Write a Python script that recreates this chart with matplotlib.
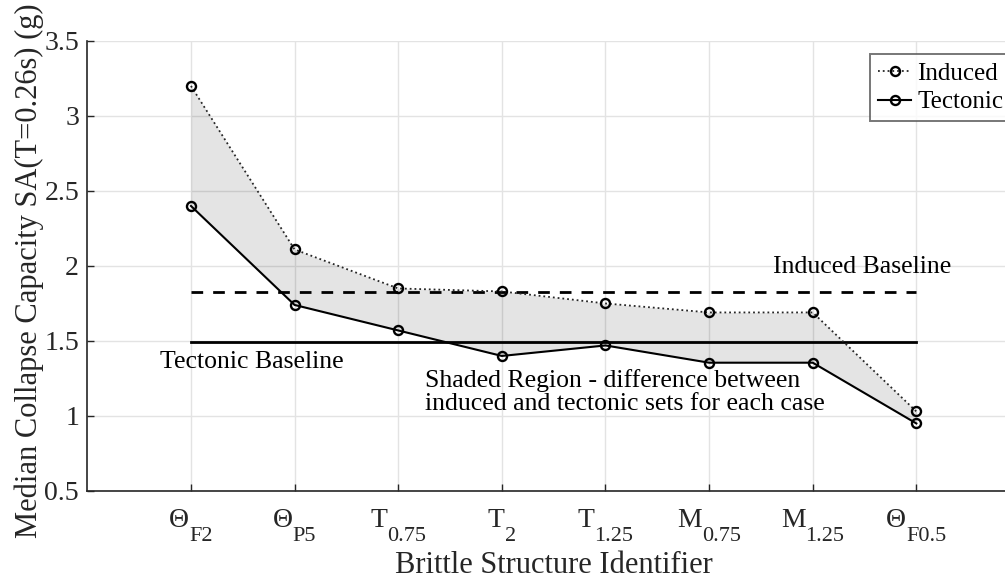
import numpy as np
import matplotlib
matplotlib.use('Agg')
import matplotlib.pyplot as plt

# Ký hiệu cấu trúc giòn: chữ chính + chỉ số dưới
case_main = ['Θ', 'Θ', 'T', 'T', 'T', 'M', 'M', 'Θ']
case_sub = ['F2', 'P5', '0.75', '2', '1.25', '0.75', '1.25', 'F0.5']

# Median collapse capacity SA(T=0.26s), đơn vị g
induced = [3.20, 2.11, 1.85, 1.83, 1.75, 1.69, 1.69, 1.03]
tectonic = [2.40, 1.74, 1.57, 1.40, 1.47, 1.355, 1.355, 0.95]

# Các đường cơ sở
induced_baseline = 1.825
tectonic_baseline = 1.495

y_ticks = [0.5, 1, 1.5, 2, 2.5, 3, 3.5]
y_tick_labels = ['0.5', '1', '1.5', '2', '2.5', '3', '3.5']

plt.rcParams['font.family'] = ['Liberation Serif', 'DejaVu Serif']

dark = '#262626'

fig = plt.figure(figsize=(10.05, 5.81), dpi=100)
ax = fig.add_axes([0.0869, 0.155, 0.928, 0.7745])

x = np.arange(1, len(case_main) + 1)

# Vùng tô giữa hai bộ dữ liệu
ax.fill_between(x, induced, tectonic, color='black', alpha=0.105, linewidth=0, zorder=1)

ax.plot(x, induced, ':', color=dark, linewidth=1.3, marker='o', markersize=6.5,
        markerfacecolor='none', markeredgewidth=1.7, markeredgecolor='black',
        label='Induced', zorder=3)
ax.plot(x, tectonic, '-', color='black', linewidth=1.5, marker='o', markersize=6.5,
        markerfacecolor='none', markeredgewidth=1.7, markeredgecolor='black',
        label='Tectonic', zorder=3)

ax.plot([x[0], x[-1]], [induced_baseline, induced_baseline], '--', color='black',
        linewidth=2, dashes=(4.2, 3.6), zorder=2)
ax.plot([x[0], x[-1]], [tectonic_baseline, tectonic_baseline], '-', color='black',
        linewidth=2, zorder=2)

ax.text(6.62, 1.99, 'Induced Baseline', fontsize=18.5, va='center', ha='left', color='black')
ax.text(0.70, 1.362, 'Tectonic Baseline', fontsize=18.5, va='center', ha='left', color='black')
ax.text(3.26, 1.16, 'Shaded Region - difference between\ninduced and tectonic sets for each case',
        fontsize=18.5, va='center', ha='left', color='black', linespacing=1.1)

ax.set_xlim(0, 9)
ax.set_ylim(0.5, 3.5)
ax.set_xticks(x)
ax.set_xticklabels([''] * len(x))
ax.set_yticks(y_ticks)
ax.set_yticklabels(y_tick_labels, fontsize=20, color=dark)

ax.tick_params(direction='in', length=5, width=1, colors=dark, pad=8)
ax.tick_params(axis='y', pad=6)
ax.grid(True, color='#e3e3e3', linewidth=1, zorder=0)
ax.set_axisbelow(True)

for side in ['top', 'right']:
    ax.spines[side].set_visible(False)
for side in ['left', 'bottom']:
    ax.spines[side].set_color(dark)
    ax.spines[side].set_linewidth(1.2)

# Nhãn trục x kiểu chỉ số dưới: đo độ rộng rồi căn giữa cả cụm quanh vạch chia
renderer = fig.canvas.get_renderer()
xtrans = ax.get_xaxis_transform()
for xi, main, sub in zip(x, case_main, case_sub):
    t_main = ax.annotate(main, xy=(xi, 0), xycoords=xtrans, xytext=(0, -36),
                         textcoords='offset pixels', fontsize=20, color=dark,
                         ha='left', va='baseline', annotation_clip=False)
    t_sub = ax.annotate(sub, xy=(xi, 0), xycoords=xtrans, xytext=(0, -50),
                        textcoords='offset pixels', fontsize=16, color=dark,
                        ha='left', va='baseline', annotation_clip=False)
    w_main = t_main.get_window_extent(renderer).width
    w_sub = t_sub.get_window_extent(renderer).width
    left = -(w_main + w_sub) / 2
    t_main.set_position((left, -36))
    t_sub.set_position((left + w_main, -50))

ax.set_xlabel('Brittle Structure Identifier', fontsize=22, color=dark, va='baseline')
ax.xaxis.set_label_coords(0.5, -0.182)
ax.set_ylabel('Median Collapse Capacity SA(T=0.26s) (g)', fontsize=22, color=dark, va='center')
ax.yaxis.set_label_coords(-0.062, 0.49)

leg = ax.legend(loc='upper right', bbox_to_anchor=(1.006, 0.907), bbox_transform=fig.transFigure,
                fontsize=18, frameon=True, fancybox=False, handlelength=1.3,
                handletextpad=0.25, borderpad=0.32, labelspacing=0.25, borderaxespad=0)
leg.get_frame().set_edgecolor('#555555')
leg.get_frame().set_linewidth(1.4)

plt.savefig('out.png', dpi=100)
